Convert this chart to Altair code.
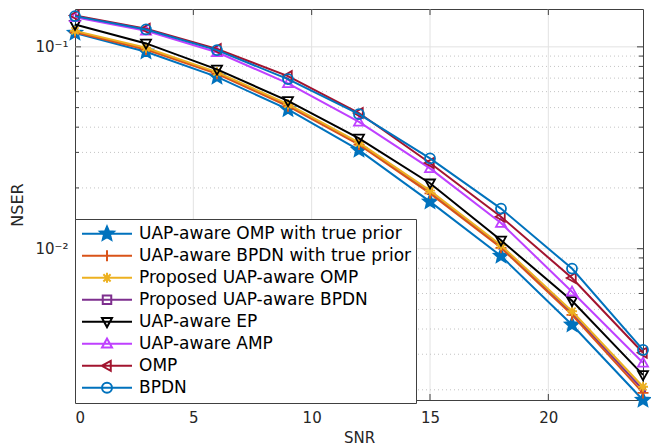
import math
import altair as alt
import pandas as pd

# ---------------- data ----------------
snr = [0, 3, 6, 9, 12, 15, 18, 21, 24]
names = [
    "UAP-aware OMP with true prior",
    "UAP-aware BPDN with true prior",
    "Proposed UAP-aware OMP",
    "Proposed UAP-aware BPDN",
    "UAP-aware EP",
    "UAP-aware AMP",
    "OMP",
    "BPDN",
]
omp_true = [0.117, 0.0945, 0.071, 0.049, 0.0308, 0.0171, 0.0092, 0.0042, 0.00178]
bpdn_true = [0.118, 0.097, 0.0735, 0.0508, 0.0328, 0.0188, 0.0101, 0.0047, 0.00193]
prop_omp = [0.120, 0.099, 0.075, 0.052, 0.0335, 0.0194, 0.0104, 0.0049, 0.00207]
prop_bpdn = [0.119, 0.098, 0.0743, 0.0514, 0.0331, 0.0191, 0.01025, 0.0048, 0.00200]
ep = [0.129, 0.104, 0.0773, 0.054, 0.0352, 0.0211, 0.0110, 0.00552, 0.00237]
amp = [0.140, 0.120, 0.094, 0.066, 0.0425, 0.0250, 0.0134, 0.00612, 0.00272]
omp = [0.143, 0.123, 0.0975, 0.0716, 0.0470, 0.0266, 0.0144, 0.00716, 0.00305]
bpdn = [0.142, 0.122, 0.0963, 0.0692, 0.0464, 0.0280, 0.0158, 0.00797, 0.00315]
series_values = [omp_true, bpdn_true, prop_omp, prop_bpdn, ep, amp, omp, bpdn]

x_ticks = [0, 5, 10, 15, 20]
y_major = [0.01, 0.1]
y_minor = [0.002, 0.003, 0.004, 0.005, 0.006, 0.007, 0.008, 0.009,
           0.02, 0.03, 0.04, 0.05, 0.06, 0.07, 0.08, 0.09]

colors = ["#0072BD", "#D95319", "#EDB120", "#7E2F8E", "#000000", "#BF40FF", "#A2142F", "#0072BD"]
marker_kind = ["star", "plus", "asterisk", "square", "tri_down", "tri_up", "tri_left", "circle"]
# drawing order (the proposed BPDN curve lies underneath the others in the reference)
draw_order = [3, 0, 1, 2, 4, 5, 6, 7]

# ---------------- marker paths ----------------
def poly(pts, k):
    return "M" + "L".join(f"{x*k:.3f},{y*k:.3f}" for x, y in pts) + "Z"

def star_pts(R, ratio=0.45):
    pts = []
    for i in range(10):
        a = -math.pi / 2 + i * math.pi / 5
        r = R if i % 2 == 0 else R * ratio
        pts.append((r * math.cos(a), r * math.sin(a)))
    return pts

def marker(kind, k):
    if kind == "star":
        return poly(star_pts(1.45), k)
    if kind == "plus":
        a = 1.1 * k
        return f"M{-a:.3f},0H{a:.3f}M0,{-a:.3f}V{a:.3f}"
    if kind == "asterisk":
        a = 1.0 * k
        d = 0.72 * k
        return (f"M{-a:.3f},0H{a:.3f}M0,{-a:.3f}V{a:.3f}"
                f"M{-d:.3f},{-d:.3f}L{d:.3f},{d:.3f}M{-d:.3f},{d:.3f}L{d:.3f},{-d:.3f}")
    if kind == "square":
        return poly([(-.85, -.85), (.85, -.85), (.85, .85), (-.85, .85)], k)
    if kind == "tri_down":
        return poly([(-1, -.75), (1, -.75), (0, 1.05)], k)
    if kind == "tri_up":
        return poly([(-1, .75), (1, .75), (0, -1.05)], k)
    if kind == "tri_left":
        return poly([(.75, -1), (.75, 1), (-1.05, 0)], k)
    if kind == "circle":
        return f"M{-k:.3f},0A{k:.3f},{k:.3f} 0 1,0 {k:.3f},0A{k:.3f},{k:.3f} 0 1,0 {-k:.3f},0Z"

plot_scale = [1.0, 1.0, 1.0, 0.5, 1.0, 1.0, 1.0, 1.0]
plot_paths = [marker(m, s) for m, s in zip(marker_kind, plot_scale)]
legend_paths = ["M-1,0H1" + marker(m, 0.2) for m in marker_kind]
fills = [c if m in ("star",) else "transparent" for c, m in zip(colors, marker_kind)]

rows = []
for name, vals in zip(names, series_values):
    for s, v in zip(snr, vals):
        rows.append({"series": name, "snr": s, "nser": v})
df = pd.DataFrame(rows)

# ---------------- styling ----------------
F = "DejaVu Sans"
AX = "#404040"
W, H = 568, 391

def X():
    return alt.X("snr:Q",
                 scale=alt.Scale(domain=[0, 24], nice=False, zero=False),
                 axis=alt.Axis(values=x_ticks, title="SNR", grid=False, ticks=False, tickSize=0,
                               domain=False, labelFontSize=15, labelFont=F, labelColor="#262626",
                               labelPadding=10, titleFontSize=15, titleFont=F,
                               titleFontWeight="normal", titleColor="#262626", titlePadding=5))

def Y():
    return alt.Y("nser:Q",
                 scale=alt.Scale(type="log", domain=[0.00178, 0.154], nice=False),
                 axis=alt.Axis(values=y_major, title="NSER", grid=False, ticks=False, tickSize=0,
                               domain=False,
                               labelExpr="datum.value > 0.05 ? '10\u207b\u00b9' : '10\u207b\u00b2'",
                               labelFontSize=15, labelFont=F, labelColor="#262626", labelPadding=7,
                               titleFontSize=16, titleFont=F, titleFontWeight="normal",
                               titleColor="#262626", titlePadding=9))

layers = []

# grid
layers.append(alt.Chart(pd.DataFrame({"snr": x_ticks[1:]})).mark_rule(color="#e2e2e2", strokeWidth=1).encode(x=X()))
layers.append(alt.Chart(pd.DataFrame({"nser": y_minor})).mark_rule(color="#c4c4c4", strokeWidth=1, strokeDash=[1, 3]).encode(y=Y()))
layers.append(alt.Chart(pd.DataFrame({"nser": y_major})).mark_rule(color="#e2e2e2", strokeWidth=1).encode(y=Y()))

# inward ticks
yM = pd.DataFrame({"nser": y_major})
ym = pd.DataFrame({"nser": y_minor})
xt = pd.DataFrame({"snr": x_ticks[1:]})
layers.append(alt.Chart(yM).mark_rule(color=AX).encode(y=Y(), x=alt.value(0), x2=alt.value(6)))
layers.append(alt.Chart(yM).mark_rule(color=AX).encode(y=Y(), x=alt.value(W), x2=alt.value(W - 6)))
layers.append(alt.Chart(ym).mark_rule(color=AX).encode(y=Y(), x=alt.value(0), x2=alt.value(4)))
layers.append(alt.Chart(ym).mark_rule(color=AX).encode(y=Y(), x=alt.value(W), x2=alt.value(W - 4)))
layers.append(alt.Chart(xt).mark_rule(color=AX).encode(x=X(), y=alt.value(H), y2=alt.value(H - 6)))
layers.append(alt.Chart(xt).mark_rule(color=AX).encode(x=X(), y=alt.value(0), y2=alt.value(6)))

# series
for i in draw_order:
    name, c, p, f = names[i], colors[i], plot_paths[i], fills[i]
    base = alt.Chart(df).transform_filter(alt.datum.series == name)
    layers.append(base.mark_line(color=c, strokeWidth=2).encode(x=X(), y=Y()))
    layers.append(base.mark_point(shape=p, size=100, stroke=c, fill=f, strokeWidth=1.8, opacity=1).encode(x=X(), y=Y()))

# legend carrier (no visible marks)
leg = alt.Legend(title=None, orient="none", legendX=0, legendY=210, direction="vertical",
                 fillColor="white", strokeColor=AX, padding=4, clipHeight=21.7, rowPadding=0,
                 symbolSize=2500, symbolStrokeWidth=2, symbolOffset=2, labelOffset=6,
                 labelFontSize=17, labelFont=F, labelColor="black", labelLimit=0,
                 symbolOpacity=1, cornerRadius=0)
layers.append(
    alt.Chart(df).transform_filter("datum.snr < -100").mark_point(opacity=1, strokeWidth=2).encode(
        x=X(), y=Y(),
        shape=alt.Shape("series:N", scale=alt.Scale(domain=names, range=legend_paths), legend=leg),
        stroke=alt.Stroke("series:N", scale=alt.Scale(domain=names, range=colors), legend=leg),
        fill=alt.Fill("series:N", scale=alt.Scale(domain=names, range=fills), legend=leg),
    )
)

chart = alt.layer(*layers).properties(
    width=W, height=H,
    padding={"left": 75, "top": 9, "right": 8, "bottom": 48},
    autosize=alt.AutoSizeParams(type="none"),
    background="white",
).configure_view(stroke=AX, strokeWidth=1)

chart.save("out.html", embed_options={"renderer": "svg", "actions": False})
